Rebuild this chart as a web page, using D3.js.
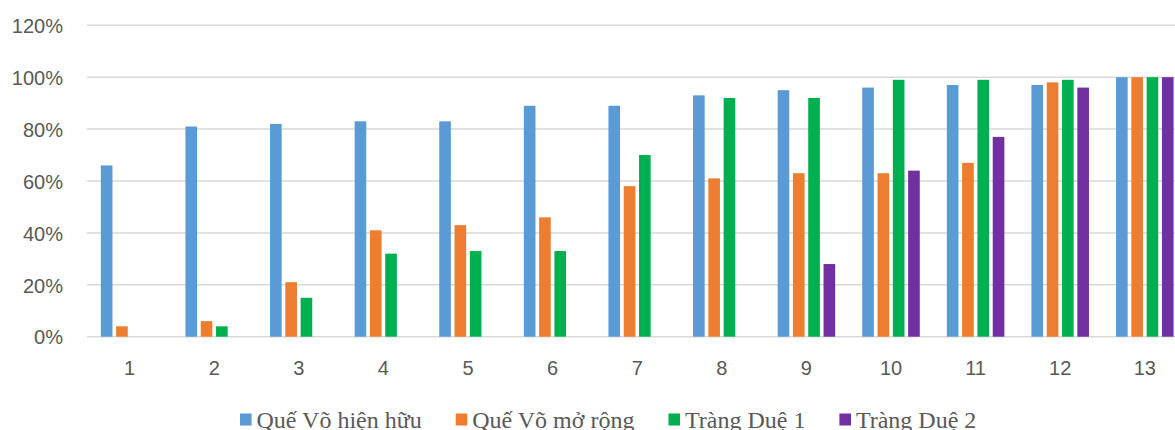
<!DOCTYPE html>
<html>
<head>
<meta charset="utf-8">
<script src="https://cdn.jsdelivr.net/npm/d3@7"></script>
<style>
html,body{margin:0;padding:0;background:#fff;overflow:hidden;}
svg{display:block;}
</style>
</head>
<body>
<svg id="chart" width="1175" height="430"></svg>
<script>
const categories = ["1","2","3","4","5","6","7","8","9","10","11","12","13"];
const seriesNames = ["Quế Võ hiện hữu","Quế Võ mở rộng","Tràng Duệ 1","Tràng Duệ 2"];
const queVoHienHuu = [66,81,82,83,83,89,89,93,95,96,97,97,100];
const queVoMoRong  = [4,6,21,41,43,46,58,61,63,63,67,98,100];
const trangDue1    = [0,4,15,32,33,33,70,92,92,99,99,99,100];
const trangDue2    = [0,0,0,0,0,0,0,0,28,64,77,96,100];
const yTicks = [0,20,40,60,80,100,120];
const colors = ["#5B9BD5","#ED7D31","#00B050","#7030A0"];

const seriesValues = [queVoHienHuu, queVoMoRong, trangDue1, trangDue2];
const svg = d3.select("#chart");

const x0 = d3.scaleBand().domain(categories).range([87.3, 1187.1]).padding(0);
const x1 = d3.scaleBand().domain(seriesNames).range([0, x0.bandwidth()])
  .paddingInner(0.24).paddingOuter(0.885);
const y = d3.scaleLinear().domain([0,120]).range([336.7, 25.3]);

// gridlines
svg.append("g").selectAll("line").data(yTicks).join("line")
  .attr("x1", 87).attr("x2", 1187)
  .attr("y1", d => y(d)).attr("y2", d => y(d))
  .attr("stroke", "#d9d9d9").attr("stroke-width", 1.5);

// y labels
const yAxis = d3.axisLeft(y).tickValues(yTicks).tickFormat(d => d + "%").tickSize(0).tickPadding(0);
const yg = svg.append("g").attr("transform", "translate(63,0)").call(yAxis);
yg.select(".domain").remove();
yg.selectAll("text").attr("fill", "#595959").attr("font-family", "Liberation Sans, Arial, sans-serif")
  .attr("font-size", 20).attr("dy", "0.36em");

// bars
const data = [];
categories.forEach((c, i) => seriesNames.forEach((s, j) => data.push({c, s, j, v: seriesValues[j][i]})));
svg.append("g").selectAll("rect").data(data.filter(d => d.v > 0)).join("rect")
  .attr("x", d => x0(d.c) + x1(d.s))
  .attr("width", x1.bandwidth())
  .attr("y", d => y(d.v))
  .attr("height", d => y(0) - y(d.v))
  .attr("fill", d => colors[d.j]);

// x labels
const xAxis = d3.axisBottom(x0).tickSize(0).tickPadding(0);
const xg = svg.append("g").attr("transform", "translate(0,375)").call(xAxis);
xg.select(".domain").remove();
xg.selectAll("text").attr("fill", "#595959").attr("font-family", "Liberation Sans, Arial, sans-serif")
  .attr("font-size", 20).attr("dy", 0).attr("y", 0);

// legend
const lg = svg.append("g");
let lx = 240;
seriesNames.forEach((s, j) => {
  lg.append("rect").attr("x", lx).attr("y", 413.5).attr("width", 11.6).attr("height", 12).attr("fill", colors[j]);
  const t = lg.append("text").attr("x", lx + 16.5).attr("y", 428)
    .attr("font-family", "Liberation Serif, Times New Roman, serif").attr("font-size", 24)
    .attr("fill", "#595959").text(s);
  lx += 16.5 + t.node().getComputedTextLength() + 34;
});
</script>
</body>
</html>
